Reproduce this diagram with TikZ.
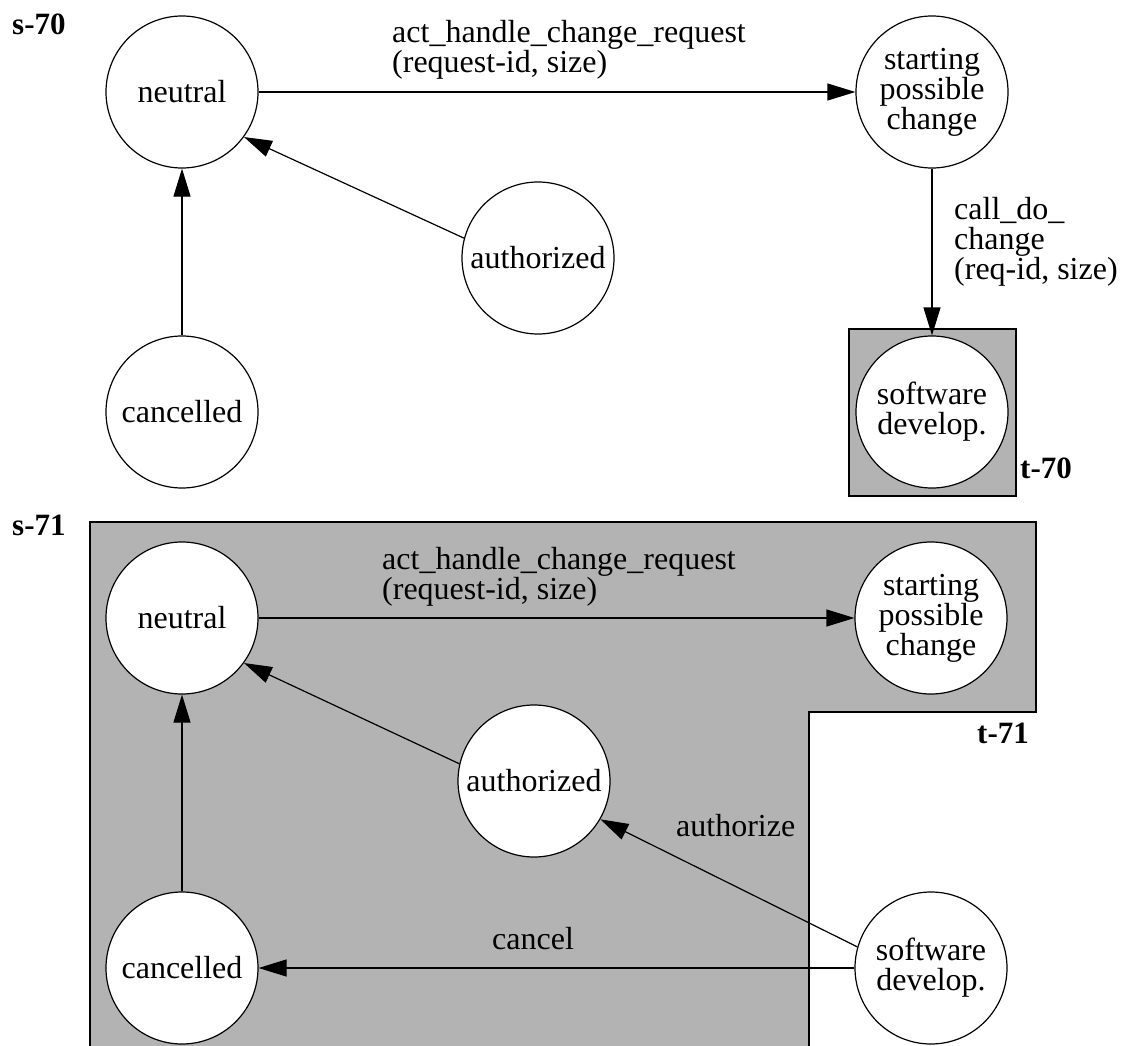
\documentclass[tikz,border=0pt]{standalone}
\usepackage{fontspec}
\setmainfont{Liberation Serif}
\usetikzlibrary{arrows.meta}
\definecolor{fillgray}{RGB}{179,179,179}
\begin{document}
\begin{tikzpicture}[x=1pt,y=-1pt,
  every node/.style={font=\fontsize{32}{30}\selectfont},
  state/.style={circle,draw,line width=1.2pt,fill=white,minimum size=152pt,inner sep=0pt,align=center},
  lbl/.style={anchor=base west,inner sep=0pt,align=left},
  tag/.style={anchor=base west,inner sep=0pt,font=\fontsize{31}{30}\selectfont\bfseries},
  conn/.style={line width=1.2pt,-{Triangle[length=28pt,width=17pt]}},
  region/.style={draw,line width=1.2pt,fill=fillgray}]
\clip (0,0) rectangle (1122,1046);
% ---------- s-70 ----------
\draw[region] (849,329) rectangle (1016,496);
\node[tag] (s70) at (12,35) {s-70};
\node[state] (n1) at (182,92) {neutral};
\node[state] (sp1) at (932,92) {starting\\possible\\change};
\node[state] (a1) at (538,258) {authorized};
\node[state] (c1) at (182,412) {cancelled};
\node[state] (sd1) at (932,412) {software\\develop.};
\node[tag] (t70) at (1020,478) {t-70};
\node[lbl] (l1) at (392,73) {act\_handle\_change\_request\\(request-id, size)};
\node[lbl] (l2) at (954,279) {call\_do\_\\change\\(req-id, size)};
\draw[conn] (n1) -- (sp1);
\draw[conn] (sp1) -- (sd1);
\draw[conn] (a1.165) -- (n1.-36);
\draw[conn] (c1) -- (n1);
% ---------- s-71 ----------
\draw[region] (90,522) -- (1036,522) -- (1036,712) -- (809,712) -- (809,1060) -- (90,1060) -- cycle;
\node[tag] (s71) at (12,535) {s-71};
\node[state] (n2) at (182,618) {neutral};
\node[state] (sp2) at (931,618) {starting\\possible\\change};
\node[state] (a2) at (534,781) {authorized};
\node[state] (c2) at (182,968) {cancelled};
\node[state] (sd2) at (931,968) {software\\develop.};
\node[tag] (t71) at (977,743) {t-71};
\node[lbl] (l3) at (382,599) {act\_handle\_change\_request\\(request-id, size)};
\node[lbl] (l4) at (676,836) {authorize};
\node[lbl] (l5) at (492,949) {cancel};
\draw[conn] (n2) -- (sp2);
\draw[conn] (a2.167) -- (n2.-36);
\draw[conn] (c2) -- (n2);
\draw[conn] (sd2.164) -- (a2.-30);
\draw[conn] (sd2) -- (c2);
\end{tikzpicture}
\end{document}
